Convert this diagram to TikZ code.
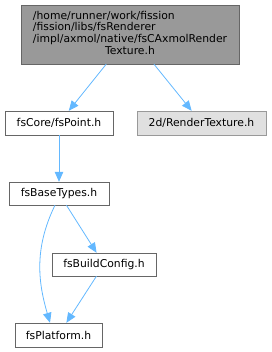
\documentclass[tikz,border=0pt]{standalone}
\usepackage{fontspec}
\setmainfont{DejaVu Sans}
\usetikzlibrary{arrows.meta}
\definecolor{edgeblue}{HTML}{63B8FF}
\definecolor{boxline}{HTML}{666666}
\definecolor{mainfill}{HTML}{999999}
\definecolor{extfill}{HTML}{E0E0E0}
\definecolor{extline}{HTML}{999999}
\tikzset{
  file/.style={draw=boxline, fill=white, inner sep=0pt, font=\fontsize{10.8}{11.7}\selectfont},
  inc/.style={draw=edgeblue, line width=0.8pt, -{Triangle[length=10pt,width=8.5pt]}}
}
\begin{document}
\begin{tikzpicture}[x=1pt,y=-1pt]
\useasboundingbox (0,0) rectangle (271,352);
\node[file, fill=mainfill, minimum width=218pt, minimum height=59pt] (T) at (130,34.5)
  {\begin{tabular}{@{}l@{}}/home/runner/work/fission\\/fission/libs/fsRenderer\\/impl/axmol/native/fsCAxmolRender\\\multicolumn{1}{@{}c@{}}{Texture.h}\end{tabular}};
\node[file, minimum width=108pt, minimum height=24pt] (P) at (59,123) {fsCore/fsPoint.h};
\node[file, draw=extline, fill=extfill, minimum width=129pt, minimum height=24pt] (R) at (201.5,123) {2d/RenderTexture.h};
\node[file, minimum width=100pt, minimum height=23pt] (B) at (59,193.5) {fsBaseTypes.h};
\node[file, minimum width=104pt, minimum height=23pt] (C) at (104,264.5) {fsBuildConfig.h};
\node[file, minimum width=87pt, minimum height=24pt] (F) at (58.5,335) {fsPlatform.h};

\draw[inc] (T) -- (P);
\draw[inc] (T) -- (R);
\draw[inc] (P) -- (B);
\draw[inc] (B) -- (C);
\draw[inc] ([xshift=-4pt]B.south) .. controls +(-22,45) and +(-11,-38) .. ([xshift=-8.5pt]F.north);
\draw[inc] (C) -- (F);
\end{tikzpicture}
\end{document}
